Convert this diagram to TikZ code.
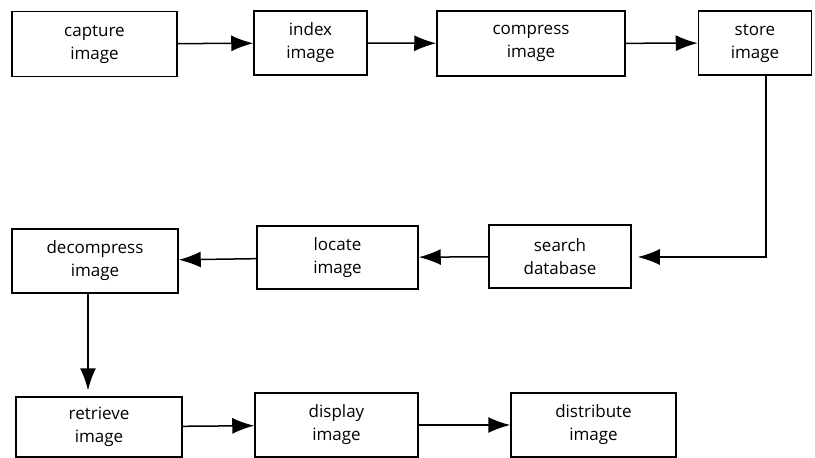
\documentclass[tikz,border=0pt]{standalone}
\usepackage{fontspec}
\setmainfont{Open Sans}
\usetikzlibrary{arrows.meta}
\begin{document}
\begin{tikzpicture}[x=1pt,y=-1pt,
  box/.style={draw, line width=1.5pt, align=center, inner sep=0pt,
    font=\fontsize{17}{23}\selectfont},
  arr/.style={line width=1.5pt, -{Latex[length=22pt,width=16pt]}}]
\useasboundingbox (0,0) rectangle (815,458);
\node[box, minimum width=165pt, minimum height=65pt] (capture) at (94.5,44) {capture\\image};
\node[box, minimum width=113pt, minimum height=64pt] (index) at (310.5,43) {index\\image};
\node[box, minimum width=188pt, minimum height=65pt] (compress) at (531,43.5) {compress\\image};
\node[box, minimum width=113pt, minimum height=64pt] (store) at (755,43) {store\\image};
\node[box, minimum width=142pt, minimum height=63pt] (search) at (560,256.5) {search\\database};
\node[box, minimum width=161pt, minimum height=63pt] (locate) at (337.5,257.5) {locate\\image};
\node[box, minimum width=166pt, minimum height=64pt] (decompress) at (95,261) {decompress\\image};
\node[box, minimum width=166pt, minimum height=60pt] (retrieve) at (99,427) {retrieve\\image};
\node[box, minimum width=163pt, minimum height=64pt] (display) at (336.5,425) {display\\image};
\node[box, minimum width=165pt, minimum height=64pt] (distribute) at (593.5,425) {distribute\\image};
\coordinate (c1) at (766,257);
\coordinate (c2) at (88,300);
\draw[arr] (capture) -- (index);
\draw[arr] (index) -- (compress);
\draw[arr] (compress) -- (store);
\draw[arr, shorten >=6pt] (store.south -| c1) -- (c1) -- (search.east |- c1);
\draw[arr] (search) -- (locate);
\draw[arr] (locate) -- (decompress);
\draw[arr, shorten >=6pt] (decompress.south -| c2) -- (retrieve.north -| c2);
\draw[arr] (retrieve) -- (display);
\draw[arr] (display) -- (distribute);
\end{tikzpicture}
\end{document}
